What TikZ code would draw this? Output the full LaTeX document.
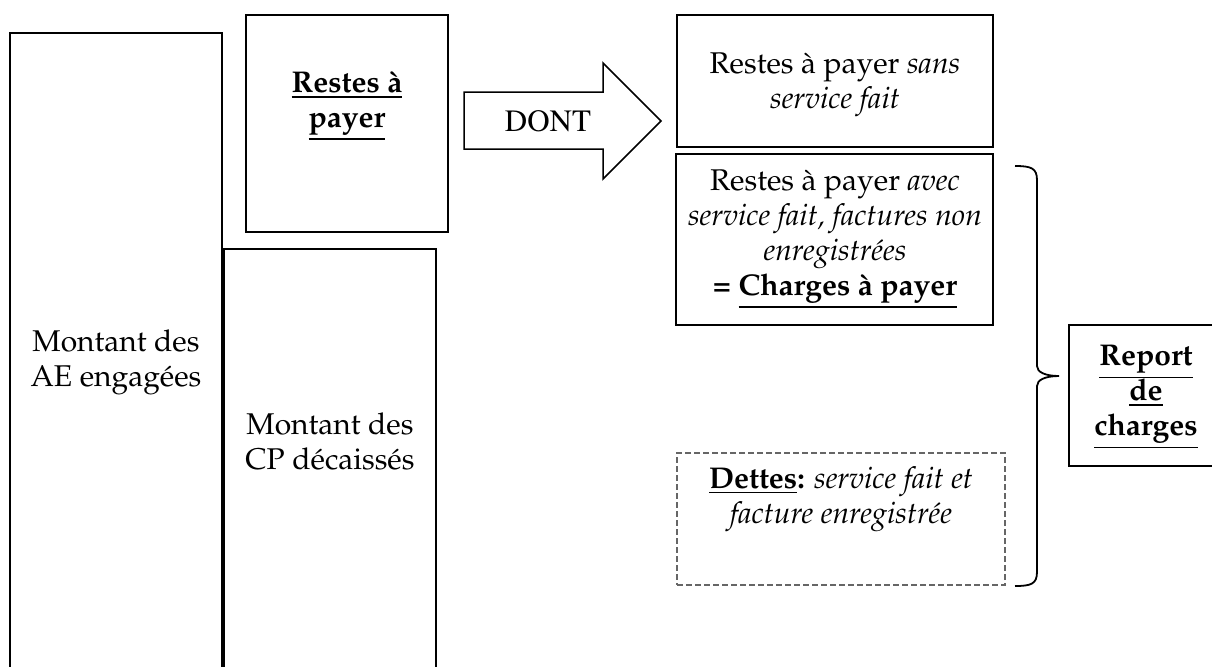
\documentclass[tikz,border=0pt]{standalone}
\usepackage[T1]{fontenc}
\usepackage{mathpazo}
\usepackage{tikz}
\usetikzlibrary{positioning,fit}

% thicker underline, set just below the text's depth
\newcommand{\ul}[1]{\setbox0\hbox{#1}%
  \rlap{\vrule width\wd0 height\dimexpr-\dp0-1.5pt\relax depth\dimexpr\dp0+2.4pt\relax}\box0}

\tikzset{
  box/.style={draw, line width=1pt, inner sep=0pt},
  dashbox/.style={draw=black!60, dash pattern=on 3pt off 1.5pt, line width=.75pt, inner sep=0pt},
  txt/.style={align=center, inner sep=0pt, font=\fontsize{15}{17.5}\selectfont},
}

\begin{document}
\begin{tikzpicture}[x=0.5pt, y=-0.5pt, line join=miter]

\useasboundingbox (0,0) rectangle (1212,666);
\clip (0,0) rectangle (1212,666);

%% left column -- engaged and paid amounts
\node[box, fit={(10,33) (222,700)}] (ae) {};
\node[txt] (aetxt) at (116,362) {Montant des\\AE engag\'ees};

\node[box, fit={(246,15) (448,232)}] (rap) {};
\node[txt] (raptxt) at (347,106) {\textbf{\ul{Restes \`a}}\\\textbf{\ul{payer}}};

\node[box, fit={(224,249) (436,700)}] (cp) {};
\node[txt] (cptxt) at (330,441) {Montant des\\CP d\'ecaiss\'es};

%% big arrow
\draw[line width=.75pt] (464,92) -- (603,92) -- (603,63) -- (661,121)
  -- (603,179) -- (603,149) -- (464,149) -- cycle;
\node[txt, font=\fontfamily{ptm}\fontsize{15.5}{18}\selectfont] (dont) at (548,121) {DONT};

%% right column -- the three kinds of remaining payments
\node[box, fit={(677,15) (993,147)}] (sans) {};
\node[txt] (sanstxt) at (835,85) {Restes \`a payer \textit{sans}\\\textit{service fait}};

\node[box, fit={(676,154) (993,325)}] (avec) {};
\node[txt] (avectxt) at (835,239) {Restes \`a payer \textit{avec}\\
  \textit{service fait, factures non}\\\textit{enregistr\'ees}\\
  \textbf{= \ul{Charges \`a payer}}};

\node[dashbox, fit={(677,453) (1005,585)}] (dettes) {};
\node[txt] (dettestxt) at (841,499) {\textbf{\ul{Dettes}:} \textit{service fait et}\\\textit{facture enregistr\'ee}};

%% brace grouping the last two boxes
\coordinate (btop) at (1015,166);
\coordinate (bmid) at (1059,376);
\coordinate (bbot) at (1015,586);
\draw[line width=.9pt] (btop) .. controls (1031,166) and (1037,168) .. (1037,180)
  -- (1037,366) .. controls (1037,372) and (1045,376) .. (bmid)
  .. controls (1045,376) and (1037,380) .. (1037,386)
  -- (1037,572) .. controls (1037,584) and (1031,586) .. (bbot);

\node[box, fit={(1069,325) (1224,466)}] (report) {};
\node[txt] (reporttxt) at (1146,397) {\textbf{\ul{Report}}\\\textbf{\ul{de}}\\\textbf{\ul{charges}}};

\end{tikzpicture}
\end{document}
